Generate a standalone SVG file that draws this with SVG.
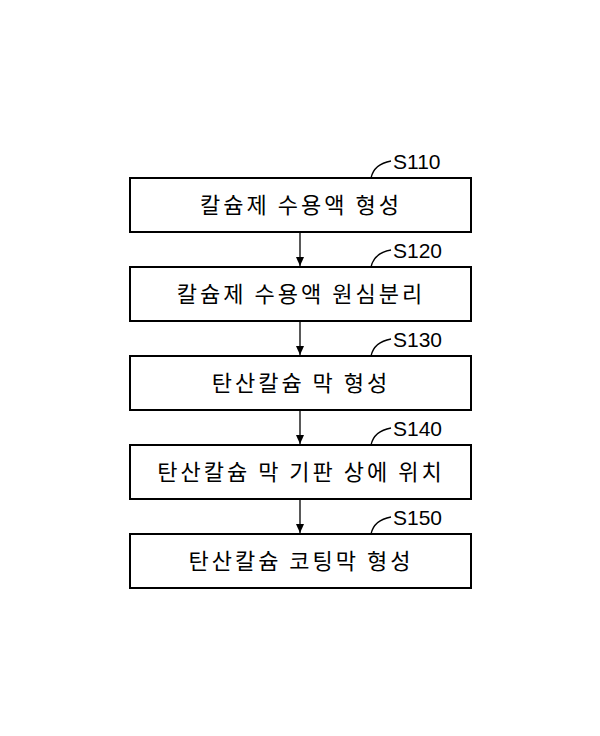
<svg xmlns="http://www.w3.org/2000/svg" width="600" height="736" viewBox="0 0 600 736">
<style>
.b{fill:#fff;stroke:#000;stroke-width:2}
.t{font-family:"Noto Sans CJK KR","Liberation Sans",sans-serif;font-size:22px;letter-spacing:3px;text-anchor:middle}
.s{font-family:"Liberation Sans",sans-serif;font-size:21px}
.c{fill:none;stroke:#000;stroke-width:1.3}
</style>
<defs><marker id="a" markerWidth="10" markerHeight="10" refX="9" refY="5" orient="auto" markerUnits="userSpaceOnUse"><path d="M0,1 L9,5 L0,9 Z"/></marker></defs>
<rect width="600" height="736" fill="#fff"/>
<g id="connectors">
<line class="c" x1="300" y1="232" x2="300" y2="266" marker-end="url(#a)"/>
<line class="c" x1="300" y1="321" x2="300" y2="355" marker-end="url(#a)"/>
<line class="c" x1="300" y1="410" x2="300" y2="444" marker-end="url(#a)"/>
<line class="c" x1="300" y1="499" x2="300" y2="533" marker-end="url(#a)"/>
</g>
<g id="n1"><rect class="b" x="130" y="178" width="341" height="54"/><text class="t" x="301" y="213">칼슘제 수용액 형성</text><path class="c" d="M371,178 Q374,164 391,161"/><text class="s" x="393" y="169">S110</text></g>
<g id="n2"><rect class="b" x="130" y="267" width="341" height="54"/><text class="t" x="301" y="302">칼슘제 수용액 원심분리</text><path class="c" d="M371,267 Q374,253 391,250"/><text class="s" x="393" y="258">S120</text></g>
<g id="n3"><rect class="b" x="130" y="356" width="341" height="54"/><text class="t" x="301" y="391">탄산칼슘 막 형성</text><path class="c" d="M371,356 Q374,342 391,339"/><text class="s" x="393" y="347">S130</text></g>
<g id="n4"><rect class="b" x="130" y="445" width="341" height="54"/><text class="t" x="301" y="480">탄산칼슘 막 기판 상에 위치</text><path class="c" d="M371,445 Q374,431 391,428"/><text class="s" x="393" y="436">S140</text></g>
<g id="n5"><rect class="b" x="130" y="534" width="341" height="54"/><text class="t" x="301" y="569">탄산칼슘 코팅막 형성</text><path class="c" d="M371,534 Q374,520 391,517"/><text class="s" x="393" y="525">S150</text></g>
</svg>
